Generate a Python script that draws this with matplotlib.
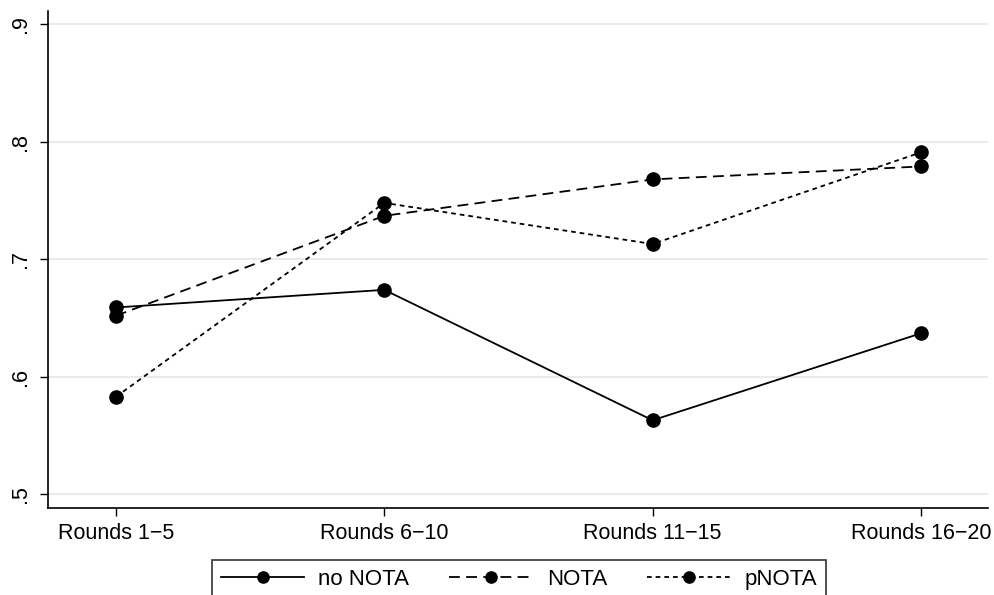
import matplotlib.pyplot as plt

plt.rcParams['font.family'] = ['Liberation Sans', 'DejaVu Sans']

# Data
rounds = ['Rounds 1\u22125', 'Rounds 6\u221210', 'Rounds 11\u221215', 'Rounds 16\u221220']
no_nota = [0.659, 0.674, 0.563, 0.637]
nota = [0.652, 0.737, 0.768, 0.779]
pnota = [0.583, 0.748, 0.713, 0.791]
yticks = [0.5, 0.6, 0.7, 0.8, 0.9]
ytick_labels = ['.5', '.6', '.7', '.8', '.9']

fig = plt.figure(figsize=(9.95, 5.95), dpi=100)
ax = fig.add_axes([48 / 995, (595 - 507.7) / 595, (988 - 48) / 995, (507.7 - 11) / 595])

x = [1, 2, 3, 4]
common = dict(color='black', marker='o', markersize=9.5, linewidth=1.3)
ax.plot(x, no_nota, linestyle='-', label='no NOTA', **common)
ax.plot(x, nota, linestyle=(0, (6, 3.5)), label='NOTA', **common)
ax.plot(x, pnota, linestyle=(0, (2.6, 2.2)), label='pNOTA', **common)

ax.set_xlim(0.7466, 4.25)
ax.set_ylim(0.4886, 0.9113)
ax.set_xticks(x)
ax.set_xticklabels(rounds, fontsize=15.5)
ax.set_yticks(yticks)
ax.set_yticklabels(ytick_labels, fontsize=15.5, rotation=90, va='center')
ax.tick_params(axis='both', length=6, width=1, color='black', direction='out')
ax.tick_params(axis='x', pad=5)
ax.tick_params(axis='y', pad=6)

ax.grid(axis='y', color='#e6e6e6', linewidth=1.2)
ax.set_axisbelow(True)
for side in ['top', 'right']:
    ax.spines[side].set_visible(False)
for side in ['left', 'bottom']:
    ax.spines[side].set_linewidth(1.2)

# legend box runs off the bottom edge, as in the original export
leg = fig.legend(loc='upper center', bbox_to_anchor=(519 / 995, 1 - 560 / 595),
                 ncol=3, fontsize=16, frameon=True, fancybox=False,
                 edgecolor='black', handlelength=3.75, columnspacing=1.8,
                 borderpad=0.4, borderaxespad=0, handletextpad=0.63,
                 markerscale=0.85)
leg.get_frame().set_linewidth(1.2)

fig.savefig('out.png', dpi=100)
